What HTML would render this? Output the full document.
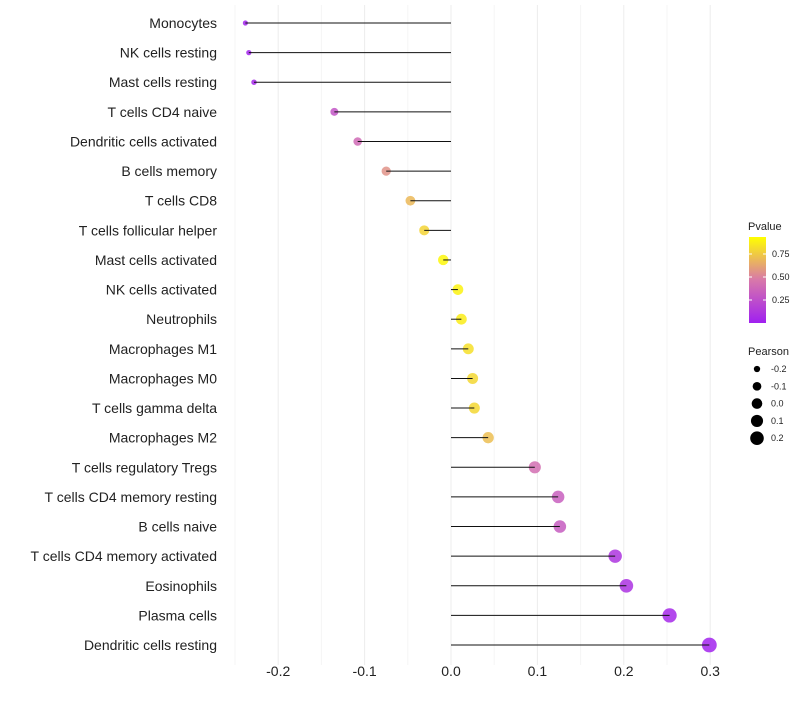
<!DOCTYPE html>
<html><head><meta charset="utf-8"><style>
body{margin:0;background:#fff;font-family:"Liberation Sans",Arial,sans-serif}
</style></head><body>
<svg id="chart" width="800" height="700" xmlns="http://www.w3.org/2000/svg"></svg>
<script>
const categories=["Monocytes","NK cells resting","Mast cells resting","T cells CD4 naive","Dendritic cells activated","B cells memory","T cells CD8","T cells follicular helper","Mast cells activated","NK cells activated","Neutrophils","Macrophages M1","Macrophages M0","T cells gamma delta","Macrophages M2","T cells regulatory  Tregs","T cells CD4 memory resting","B cells naive","T cells CD4 memory activated","Eosinophils","Plasma cells","Dendritic cells resting"];
const pearson=[-0.238,-0.234,-0.228,-0.135,-0.108,-0.075,-0.047,-0.031,-0.009,0.008,0.012,0.020,0.025,0.027,0.043,0.097,0.124,0.126,0.190,0.203,0.253,0.299];
const pvalues=[0.02,0.03,0.04,0.30,0.42,0.60,0.74,0.84,0.97,0.95,0.93,0.88,0.85,0.85,0.76,0.45,0.36,0.34,0.12,0.10,0.05,0.02];
const xTicks=[-0.2,-0.1,0.0,0.1,0.2,0.3];
const xTickLabels=["-0.2","-0.1","0.0","0.1","0.2","0.3"];
const colorTicks=[0.25,0.5,0.75];
const colorTickLabels=["0.25","0.50","0.75"];
const sizeTicks=[-0.2,-0.1,0.0,0.1,0.2];
const sizeTickLabels=["-0.2","-0.1","0.0","0.1","0.2"];

const svg=document.getElementById('chart');
const NS='http://www.w3.org/2000/svg';
function mk(t,a,p){const e=document.createElementNS(NS,t);for(const k in a)e.setAttribute(k,a[k]);(p||svg).appendChild(e);return e;}
const x=v=>451+v*864;
const y=i=>23+i*29.62;
const r=v=>Math.sqrt(Math.max(4,28+90*v));
const stops=[[0,[160,32,240]],[0.5,[216,120,170]],[1,[255,255,0]]];
function col(p){for(let i=0;i<stops.length-1;i++){const[a,ca]=stops[i],[b,cb]=stops[i+1];if(p<=b){const t=(p-a)/(b-a);return 'rgb('+ca.map((c,j)=>Math.round(c+(cb[j]-c)*t)).join(',')+')';}}return 'rgb(255,255,0)';}

// grid
for(let k=0;k<=11;k++){
  const v=-0.25+k*0.05;
  const major=(k%2===1);
  const g=mk('line',{x1:x(v),x2:x(v),y1:5,y2:665,stroke:major?'#ececec':'#f5f5f5','stroke-width':1});
  
  
}
xTicks.forEach((v,i)=>{
  const t=mk('text',{x:x(v),y:676,'text-anchor':'middle','font-size':14,fill:'#222'});
  t.textContent=xTickLabels[i];
  
  
});
categories.forEach((c,i)=>{
  const t=mk('text',{x:217,y:y(i)+5,'text-anchor':'end','font-size':14,fill:'#222'});
  t.textContent=c;
  
  
  const pt=mk('circle',{cx:x(pearson[i]),cy:y(i),r:r(pearson[i]),fill:col(pvalues[i]),'fill-opacity':0.85});
  
  
  const ln=mk('line',{x1:x(0),x2:x(pearson[i]),y1:y(i),y2:y(i),stroke:'#111','stroke-width':1});
  
  
});
// color legend
let t=mk('text',{x:748,y:230,'font-size':11,fill:'#222'});t.textContent='Pvalue';


const defs=mk('defs',{});
const lg=mk('linearGradient',{id:'pg',x1:0,y1:1,x2:0,y2:0},defs);
stops.forEach(s=>mk('stop',{offset:s[0],'stop-color':'rgb('+s[1].join(',')+')'},lg));
const cy=p=>323-p*92;
const bar=mk('rect',{x:749,y:237,width:17,height:86,fill:'url(#pg)'});


colorTicks.forEach((p,i)=>{
  mk('line',{x1:749,x2:752,y1:cy(p),y2:cy(p),stroke:'#fff'});
  mk('line',{x1:763,x2:766,y1:cy(p),y2:cy(p),stroke:'#fff'});
  const l=mk('text',{x:772,y:cy(p)+3,'font-size':9,fill:'#222'});l.textContent=colorTickLabels[i];
  
  
});
t=mk('text',{x:748,y:355,'font-size':11,fill:'#222'});t.textContent='Pearson';


sizeTicks.forEach((v,i)=>{
  const yy=369+i*17.3;
  const c=mk('circle',{cx:757,cy:yy,r:r(v),fill:'#000'});
  
  
  const l=mk('text',{x:771,y:yy+3,'font-size':9,fill:'#222'});l.textContent=sizeTickLabels[i];
  
  
});
</script>
</body></html>
